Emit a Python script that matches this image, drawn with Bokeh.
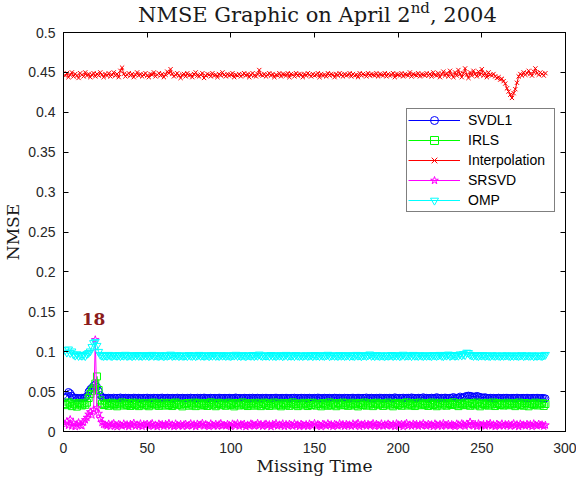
from bokeh.plotting import figure
from bokeh.layouts import column
from bokeh.models import Div, Label, LinearAxis, FixedTicker, Range1d, CustomJSTickFormatter
from bokeh.embed import file_html
from bokeh.resources import INLINE

# Missing time index (5-minute slots over one day)
missing_time = list(range(1, 289))

svdl1 = [
    .0420, .0440, .0495, .0480, .0450, .0425, .0418, .0422, .0420, .0416, .0423, .0419, .0428, .0445, .0500, .0530, .0550, .0575, .0590, .0560, .0510, .0455, .0432, .0424,
    .0421, .0418, .0423, .0420, .0417, .0424, .0419, .0422, .0420, .0426, .0418, .0421, .0423, .0419, .0422, .0420, .0417, .0424, .0421, .0419, .0423, .0420, .0418, .0422,
    .0420, .0424, .0419, .0421, .0418, .0423, .0420, .0422, .0419, .0421, .0425, .0418, .0420, .0423, .0421, .0419, .0422, .0420, .0418, .0424, .0421, .0419, .0423, .0420,
    .0418, .0422, .0420, .0424, .0419, .0421, .0417, .0423, .0420, .0422, .0419, .0425, .0421, .0418, .0420, .0423, .0419, .0422, .0420, .0418, .0424, .0421, .0419, .0422,
    .0421, .0419, .0423, .0420, .0418, .0422, .0426, .0419, .0421, .0420, .0417, .0423, .0421, .0419, .0422, .0420, .0424, .0418, .0421, .0423, .0419, .0420, .0422, .0418,
    .0423, .0420, .0418, .0422, .0419, .0421, .0424, .0420, .0418, .0422, .0421, .0419, .0423, .0420, .0417, .0422, .0420, .0424, .0419, .0421, .0418, .0423, .0420, .0422,
    .0419, .0421, .0423, .0418, .0420, .0422, .0419, .0425, .0421, .0418, .0420, .0423, .0419, .0421, .0422, .0418, .0420, .0424, .0421, .0419, .0422, .0420, .0418, .0423,
    .0420, .0422, .0419, .0421, .0424, .0418, .0420, .0423, .0421, .0419, .0422, .0420, .0426, .0418, .0421, .0423, .0419, .0420, .0422, .0418, .0424, .0421, .0419, .0422,
    .0421, .0419, .0423, .0420, .0418, .0428, .0421, .0419, .0422, .0420, .0424, .0418, .0421, .0423, .0419, .0427, .0422, .0420, .0418, .0423, .0421, .0419, .0429, .0420,
    .0422, .0419, .0421, .0424, .0418, .0420, .0430, .0421, .0419, .0422, .0420, .0425, .0421, .0418, .0423, .0420, .0432, .0419, .0421, .0424, .0438, .0422, .0427, .0440,
    .0445, .0450, .0447, .0442, .0435, .0438, .0446, .0440, .0432, .0428, .0424, .0430, .0421, .0419, .0423, .0420, .0422, .0418, .0421, .0424, .0420, .0419, .0422, .0421,
    .0423, .0420, .0418, .0422, .0421, .0419, .0424, .0420, .0418, .0422, .0421, .0419, .0423, .0420, .0418, .0422, .0421, .0419, .0423, .0420, .0418, .0421, .0419, .0415,
]

irls = [
    .0345, .0330, .0365, .0352, .0318, .0348, .0336, .0312, .0358, .0341, .0326, .0352, .0335, .0362, .0420, .0470, .0510, .0540, .0600, .0690, .0520, .0390, .0348, .0331,
    .0338, .0355, .0322, .0347, .0361, .0329, .0344, .0316, .0352, .0339, .0364, .0325, .0348, .0333, .0357, .0320, .0345, .0362, .0331, .0350, .0318, .0343, .0359, .0327,
    .0351, .0334, .0317, .0356, .0342, .0363, .0328, .0346, .0321, .0354, .0337, .0360, .0324, .0349, .0332, .0358, .0319, .0345, .0363, .0330, .0352, .0336, .0315, .0348,
    .0340, .0357, .0323, .0350, .0335, .0362, .0318, .0347, .0359, .0326, .0343, .0331, .0356, .0320, .0348, .0365, .0334, .0351, .0317, .0344, .0360, .0329, .0353, .0338,
    .0322, .0349, .0361, .0333, .0346, .0315, .0357, .0339, .0326, .0352, .0364, .0330, .0343, .0319, .0355, .0337, .0348, .0323, .0360, .0335, .0350, .0318, .0345, .0362,
    .0331, .0354, .0320, .0347, .0338, .0363, .0325, .0351, .0334, .0316, .0358, .0342, .0329, .0356, .0321, .0349, .0365, .0336, .0344, .0318, .0353, .0340, .0327, .0360,
    .0346, .0319, .0355, .0332, .0361, .0338, .0324, .0350, .0343, .0316, .0358, .0335, .0347, .0322, .0364, .0330, .0352, .0339, .0317, .0356, .0341, .0328, .0362, .0334,
    .0353, .0321, .0348, .0337, .0360, .0326, .0344, .0315, .0357, .0340, .0331, .0363, .0323, .0349, .0336, .0355, .0318, .0346, .0361, .0329, .0342, .0354, .0320, .0347,
    .0338, .0362, .0327, .0350, .0316, .0345, .0359, .0333, .0348, .0322, .0356, .0340, .0364, .0325, .0343, .0330, .0358, .0319, .0351, .0337, .0362, .0328, .0346, .0334,
    .0355, .0320, .0347, .0363, .0332, .0349, .0317, .0341, .0360, .0326, .0352, .0338, .0323, .0357, .0344, .0331, .0365, .0336, .0348, .0318, .0354, .0342, .0329, .0361,
    .0335, .0350, .0322, .0358, .0344, .0327, .0362, .0339, .0316, .0353, .0346, .0330, .0359, .0324, .0348, .0337, .0363, .0319, .0345, .0356, .0332, .0350, .0325, .0341,
    .0360, .0328, .0347, .0336, .0355, .0318, .0343, .0362, .0331, .0349, .0323, .0357, .0340, .0316, .0352, .0345, .0334, .0361, .0326, .0348, .0339, .0355, .0320, .0345,
]

interpolation = [
    .446, .449, .444, .447, .450, .445, .448, .446, .443, .449, .447, .445, .450, .446, .448, .444, .447, .449, .445, .448, .446, .450, .447, .444,
    .448, .446, .449, .445, .447, .450, .446, .448, .444, .452, .456, .448, .445, .447, .449, .446, .448, .444, .447, .450, .446, .448, .445, .447,
    .449, .446, .444, .448, .447, .450, .445, .447, .449, .446, .448, .444, .447, .451, .449, .454, .448, .445, .447, .449, .446, .443, .447, .448,
    .445, .449, .446, .447, .444, .448, .450, .446, .445, .447, .449, .443, .446, .448, .447, .445, .449, .446, .447, .444, .448, .446, .450, .447,
    .445, .448, .446, .447, .449, .444, .447, .446, .448, .445, .447, .449, .446, .448, .444, .447, .449, .446, .445, .448, .453, .447, .446, .448,
    .445, .447, .449, .446, .448, .444, .447, .446, .449, .445, .448, .447, .446, .449, .444, .448, .447, .445, .449, .446, .448, .447, .444, .448,
    .446, .449, .447, .445, .448, .446, .447, .449, .444, .448, .446, .447, .445, .449, .446, .448, .447, .444, .448, .446, .449, .447, .445, .448,
    .446, .447, .449, .445, .448, .446, .447, .444, .449, .446, .448, .447, .445, .449, .446, .448, .447, .446, .449, .445, .448, .447, .446, .449,
    .445, .448, .446, .447, .449, .444, .448, .447, .446, .449, .445, .448, .447, .446, .450, .445, .448, .447, .446, .449, .445, .448, .447, .446,
    .449, .446, .448, .445, .450, .447, .446, .449, .444, .448, .451, .446, .449, .445, .452, .447, .444, .450, .446, .453, .448, .444, .449, .455,
    .447, .443, .450, .446, .452, .448, .445, .451, .447, .454, .446, .449, .444, .450, .447, .446, .448, .445, .443, .444, .441, .442, .439, .436,
    .430, .426, .422, .418, .424, .429, .437, .445, .448, .446, .450, .447, .449, .452, .448, .446, .451, .455, .449, .447, .450, .448, .446, .449,
]

srsvd = [
    .0090, .0125, .0075, .0150, .0068, .0102, .0060, .0088, .0112, .0079, .0070, .0118, .0145, .0175, .0215, .0245, .0205, .0275, .1150, .0295, .0225, .0160, .0112, .0088,
    .0082, .0071, .0095, .0064, .0088, .0102, .0076, .0059, .0091, .0083, .0068, .0097, .0074, .0086, .0061, .0093, .0079, .0105, .0067, .0084, .0072, .0098, .0063, .0089,
    .0076, .0094, .0065, .0087, .0101, .0070, .0083, .0060, .0096, .0078, .0089, .0066, .0092, .0074, .0103, .0069, .0085, .0062, .0097, .0080, .0071, .0090, .0064, .0086,
    .0093, .0067, .0081, .0099, .0072, .0088, .0061, .0095, .0077, .0084, .0104, .0068, .0090, .0075, .0063, .0098, .0082, .0070, .0092, .0065, .0087, .0101, .0073, .0080,
    .0069, .0091, .0078, .0062, .0096, .0085, .0074, .0100, .0066, .0089, .0079, .0094, .0061, .0083, .0072, .0097, .0088, .0067, .0081, .0103, .0075, .0090, .0064, .0086,
    .0095, .0073, .0087, .0060, .0092, .0079, .0101, .0068, .0084, .0076, .0098, .0063, .0089, .0071, .0094, .0082, .0066, .0099, .0077, .0085, .0062, .0093, .0080, .0070,
    .0088, .0064, .0096, .0081, .0073, .0102, .0067, .0090, .0078, .0061, .0094, .0085, .0070, .0099, .0076, .0087, .0063, .0092, .0083, .0069, .0100, .0074, .0089, .0065,
    .0091, .0077, .0084, .0066, .0097, .0072, .0088, .0103, .0062, .0086, .0079, .0095, .0068, .0090, .0075, .0083, .0101, .0064, .0093, .0080, .0071, .0098, .0067, .0087,
    .0074, .0096, .0082, .0069, .0090, .0063, .0099, .0085, .0076, .0092, .0061, .0088, .0104, .0072, .0084, .0067, .0095, .0079, .0091, .0066, .0087, .0073, .0100, .0081,
    .0068, .0093, .0078, .0086, .0062, .0097, .0083, .0071, .0090, .0065, .0101, .0080, .0074, .0094, .0069, .0088, .0077, .0063, .0096, .0084, .0072, .0099, .0087, .0066,
    .0095, .0079, .0120, .0085, .0070, .0092, .0064, .0098, .0081, .0075, .0089, .0067, .0093, .0078, .0102, .0071, .0086, .0062, .0094, .0080, .0073, .0097, .0068, .0088,
    .0076, .0091, .0065, .0083, .0100, .0072, .0087, .0061, .0096, .0079, .0084, .0069, .0092, .0074, .0089, .0063, .0098, .0082, .0070, .0093, .0077, .0085, .0066, .0080,
]

omp = [
    .1020, .0990, .1030, .0985, .1005, .0965, .0952, .0970, .0948, .0958, .0950, .0962, .0946, .0972, .0985, .1005, .1060, .1110, .1125, .1075, .1000, .0962, .0951, .0947,
    .0955, .0948, .0962, .0951, .0945, .0958, .0953, .0949, .0960, .0946, .0955, .0951, .0963, .0947, .0952, .0958, .0944, .0956, .0950, .0961, .0948, .0954, .0946, .0959,
    .0951, .0957, .0945, .0953, .0962, .0948, .0955, .0950, .0946, .0959, .0952, .0944, .0957, .0949, .0954, .0965, .0947, .0953, .0951, .0958, .0945, .0956, .0950, .0948,
    .0954, .0946, .0960, .0951, .0948, .0957, .0945, .0953, .0962, .0949, .0955, .0947, .0952, .0958, .0944, .0956, .0950, .0961, .0948, .0953, .0946, .0959, .0951, .0955,
    .0947, .0958, .0950, .0945, .0956, .0952, .0963, .0948, .0954, .0946, .0959, .0951, .0944, .0957, .0953, .0949, .0961, .0946, .0955, .0950, .0966, .0952, .0947, .0956,
    .0950, .0955, .0946, .0961, .0948, .0953, .0945, .0958, .0951, .0956, .0944, .0952, .0962, .0947, .0954, .0949, .0957, .0945, .0960, .0951, .0948, .0955, .0946, .0953,
    .0958, .0947, .0952, .0956, .0944, .0961, .0950, .0954, .0946, .0959, .0951, .0948, .0955, .0963, .0945, .0952, .0957, .0949, .0953, .0946, .0960, .0950, .0955, .0947,
    .0952, .0959, .0945, .0954, .0950, .0947, .0962, .0951, .0956, .0944, .0953, .0958, .0948, .0955, .0967, .0949, .0954, .0946, .0960, .0952, .0947, .0957, .0951, .0945,
    .0956, .0949, .0953, .0961, .0946, .0955, .0950, .0958, .0944, .0952, .0964, .0948, .0954, .0951, .0957, .0945, .0962, .0950, .0953, .0947, .0959, .0952, .0946, .0955,
    .0949, .0957, .0951, .0946, .0960, .0953, .0948, .0955, .0962, .0950, .0945, .0958, .0952, .0966, .0947, .0954, .0961, .0949, .0956, .0951, .0968, .0953, .0972, .0958,
    .0990, .0985, .0962, .0955, .0948, .0959, .0951, .0946, .0957, .0952, .0960, .0947, .0954, .0950, .0945, .0958, .0952, .0948, .0956, .0951, .0946, .0955, .0949, .0953,
    .0957, .0950, .0945, .0954, .0948, .0956, .0951, .0947, .0953, .0958, .0946, .0952, .0955, .0949, .0950, .0956, .0944, .0953, .0948, .0955, .0951, .0946, .0954, .0962,
]

series_names = ["SVDL1", "IRLS", "Interpolation", "SRSVD", "OMP"]
series_values = [svdl1, irls, interpolation, srsvd, omp]
series_colors = ["#0000FF", "#00FF00", "#FF0000", "#FF00FF", "#00FFFF"]
series_markers = ["circle", "square", "x", "star", "inverted_triangle"]
series_sizes = [7, 7, 6, 8, 8]

x_ticks = [0, 50, 100, 150, 200, 250, 300]
y_ticks = [0, 0.05, 0.1, 0.15, 0.2, 0.25, 0.3, 0.35, 0.4, 0.45, 0.5]
y_tick_labels = ["0", "0.05", "0.1", "0.15", "0.2", "0.25", "0.3", "0.35", "0.4", "0.45", "0.5"]

title_main = "NMSE Graphic on April 2"
title_sup = "nd"
title_tail = ", 2004"

highlight_time = 18
highlight_level = 0.1416

serif = "DejaVu Serif"
sans = "Liberation Sans"
tick_color = "#262626"
text_color = "#1a1a1a"

W = 576
TITLE_H = 22
MAIN_H = 479 - TITLE_H

# ---- title line with a superscript ordinal (its lower edge may overhang the chart's transparent border) ----
title_html = (
    f'<div style="font-family:\'{serif}\'; font-size:21px; line-height:24px; '
    f'color:{text_color}; padding:3px 0 0 138px; white-space:nowrap;">'
    f'{title_main}<span style="font-size:15px; position:relative; top:-9px;">{title_sup}</span>'
    f'{title_tail}</div>'
)
title_div = Div(text=title_html, width=W, height=TITLE_H, margin=0,
                styles={"overflow": "visible"})

# ---- main chart ----
p = figure(width=W, height=MAIN_H, output_backend="svg", toolbar_location=None,
           title=None, x_range=Range1d(0, 300), y_range=Range1d(0, 0.5),
           min_border_left=63, min_border_right=11, min_border_top=10, min_border_bottom=48,
           background_fill_color="white", border_fill_alpha=0)
p.grid.visible = False
p.outline_line_color = "black"
p.outline_line_width = 1

for name, vals, col, mk, sz in zip(series_names, series_values, series_colors, series_markers, series_sizes):
    p.line(missing_time, vals, line_color=col, line_width=1, legend_label=name)
    p.scatter(missing_time, vals, marker=mk, size=sz, line_color=col, line_width=1,
              fill_color=None, legend_label=name)

def style_axis(ax):
    ax.axis_line_color = "black"
    ax.axis_line_width = 1
    ax.major_tick_in = 5
    ax.major_tick_out = 0
    ax.minor_tick_line_color = None
    ax.major_tick_line_color = "black"

p.xaxis.ticker = FixedTicker(ticks=x_ticks)
p.yaxis.ticker = FixedTicker(ticks=y_ticks)
p.yaxis.major_label_overrides = dict(zip(y_ticks, y_tick_labels))
for ax in (p.xaxis[0], p.yaxis[0]):
    style_axis(ax)
    ax.major_label_text_font = sans
    ax.major_label_text_font_size = "14px"
    ax.major_label_text_color = tick_color
    ax.axis_label_text_font = serif
    ax.axis_label_text_font_size = "17px"
    ax.axis_label_text_font_style = "normal"
    ax.axis_label_text_color = text_color
p.xaxis.axis_label = "Missing Time"
p.yaxis.axis_label = "NMSE"
p.xaxis.major_label_standoff = 11
p.xaxis.axis_label_standoff = 0
p.yaxis.major_label_standoff = 8
p.yaxis.axis_label_standoff = 2

# mirrored inward ticks on the top and right edges of the box
blank = CustomJSTickFormatter(code="return ''")
top_ax = LinearAxis(ticker=FixedTicker(ticks=x_ticks), formatter=blank)
right_ax = LinearAxis(ticker=FixedTicker(ticks=y_ticks), formatter=blank)
for ax in (top_ax, right_ax):
    style_axis(ax)
    ax.major_label_standoff = 0
    ax.major_label_text_font_size = "0px"
p.add_layout(top_ax, "above")
p.add_layout(right_ax, "right")

# annotation of the highlighted missing time
p.add_layout(Label(x=highlight_time, y=highlight_level, text=str(highlight_time),
                   text_align="center", text_baseline="middle", text_font=serif,
                   text_font_size="17px", text_font_style="bold", text_color="#8B1C1C"))

lg = p.legend[0]
lg.location = (343, 219)
lg.border_line_color = "black"
lg.border_line_width = 1
lg.background_fill_color = "white"
lg.background_fill_alpha = 1
lg.label_text_font = sans
lg.label_text_font_size = "14px"
lg.label_text_color = "black"
lg.glyph_width = 52
lg.glyph_height = 20
lg.label_height = 20
lg.label_width = 85
lg.spacing = 0
lg.padding = 1
lg.margin = 0
lg.label_standoff = 8

layout = column(title_div, p, spacing=0)
open("out.html", "w").write(file_html(layout, INLINE))
